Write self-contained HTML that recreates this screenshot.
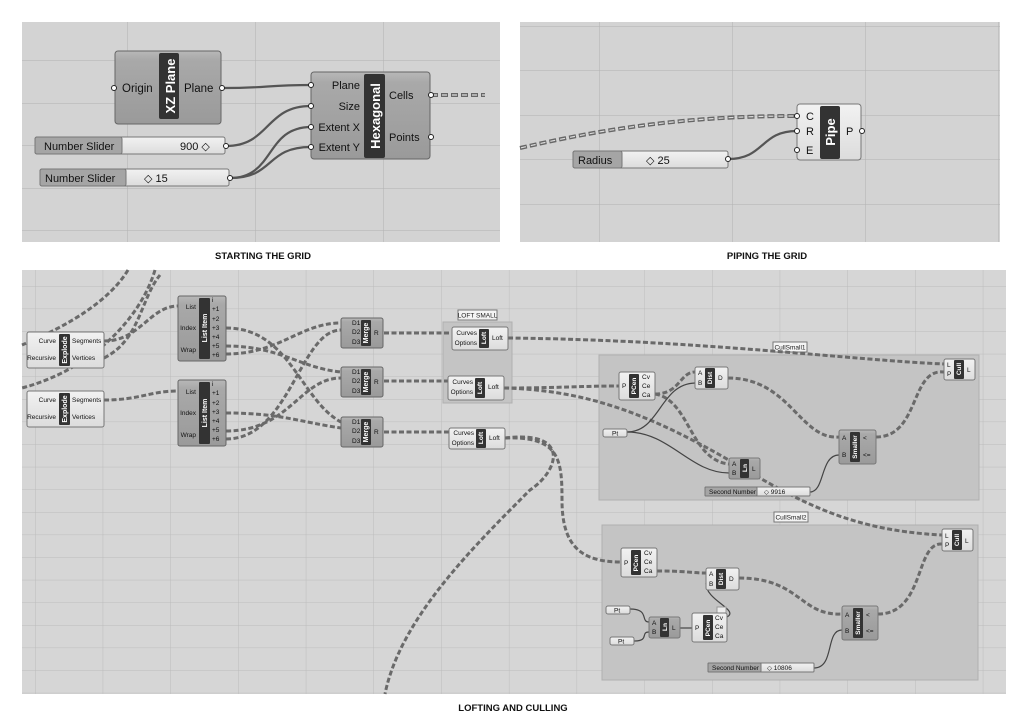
<!DOCTYPE html>
<html><head><meta charset="utf-8">
<style>
html,body{margin:0;padding:0;background:#fff;}
svg{display:block;font-family:"Liberation Sans",sans-serif;}
</style></head>
<body>
<svg width="1024" height="724" viewBox="0 0 1024 724" xmlns="http://www.w3.org/2000/svg">
<defs>
<linearGradient id="comp" x1="0" y1="0" x2="0" y2="1">
<stop offset="0" stop-color="#b8b8b8"/><stop offset="0.12" stop-color="#a9a9a9"/><stop offset="1" stop-color="#9a9a9a"/></linearGradient>
<linearGradient id="light" x1="0" y1="0" x2="0" y2="1">
<stop offset="0" stop-color="#f2f2f2"/><stop offset="1" stop-color="#dcdcdc"/></linearGradient>
<pattern id="g1" x="-1" y="18" width="128" height="42.5" patternUnits="userSpaceOnUse">
<path d="M0 0 H128 M0 0 V43" stroke="#b2b2b2" stroke-width="1" fill="none"/></pattern>
<pattern id="g2" x="67" y="26" width="133" height="44.5" patternUnits="userSpaceOnUse">
<path d="M0 0 H133 M0 0 V45" stroke="#b2b2b2" stroke-width="1" fill="none"/></pattern>
<pattern id="g3" x="35" y="286" width="67.7" height="22.6" patternUnits="userSpaceOnUse">
<path d="M0 0 H68 M0 0 V23" stroke="#bcbcbc" stroke-width="1" fill="none"/></pattern>
</defs>

<rect x="22" y="22" width="478" height="220" fill="#d3d3d3"/>
<rect x="22" y="22" width="478" height="220" fill="url(#g1)"/>
<rect x="520" y="22" width="480" height="220" fill="#d3d3d3"/>
<rect x="520" y="22" width="480" height="220" fill="url(#g2)"/>
<rect x="22" y="270" width="984" height="424" fill="#d6d6d6"/>
<rect x="22" y="270" width="984" height="424" fill="url(#g3)"/>

<g font-weight="bold" font-size="9.5" fill="#111" text-anchor="middle">
<text x="263" y="259">STARTING THE GRID</text>
<text x="767" y="259">PIPING THE GRID</text>
<text x="513" y="711">LOFTING AND CULLING</text>
</g>

<!-- ===== TOP LEFT ===== -->
<g fill="none" stroke="#555" stroke-width="2.2">
<path d="M223 88 C270 88 265 85 311 85"/>
<path d="M226 146 C270 146 265 106 311 106"/>
<path d="M230 178 C275 178 265 127 311 127"/>
<path d="M230 178 C275 178 265 147 311 147"/>
</g>
<path d="M431 95 H485" stroke="#666" stroke-width="4" stroke-dasharray="7 3" fill="none"/>
<path d="M431 95 H485" stroke="#ddd" stroke-width="1.2" stroke-dasharray="5 5" stroke-dashoffset="-1" fill="none"/>

<rect x="115" y="51" width="106" height="73" rx="3" fill="url(#comp)" stroke="#666"/>
<rect x="159" y="53" width="20" height="66" rx="2" fill="#333"/>
<text transform="translate(175 86) rotate(-90)" text-anchor="middle" fill="#fff" font-weight="bold" font-size="13">XZ Plane</text>
<text x="122" y="92" font-size="11.5" fill="#111">Origin</text>
<text x="184" y="92" font-size="11.5" fill="#111">Plane</text>
<circle cx="114" cy="88" r="2.5" fill="#fff" stroke="#222"/>
<circle cx="222" cy="88" r="2.5" fill="#fff" stroke="#222"/>

<rect x="311" y="72" width="119" height="87" rx="3" fill="url(#comp)" stroke="#666"/>
<rect x="364" y="74" width="21" height="84" rx="2" fill="#333"/>
<text transform="translate(380 116) rotate(-90)" text-anchor="middle" fill="#fff" font-weight="bold" font-size="13">Hexagonal</text>
<g font-size="11" fill="#111" text-anchor="end">
<text x="360" y="89">Plane</text><text x="360" y="110">Size</text><text x="360" y="131">Extent X</text><text x="360" y="151">Extent Y</text></g>
<text x="389" y="99" font-size="11" fill="#111">Cells</text>
<text x="389" y="141" font-size="11" fill="#111">Points</text>
<g fill="#fff" stroke="#222"><circle cx="311" cy="85" r="2.5"/><circle cx="311" cy="106" r="2.5"/><circle cx="311" cy="127" r="2.5"/><circle cx="311" cy="147" r="2.5"/><circle cx="431" cy="95" r="2.5"/><circle cx="431" cy="137" r="2.5"/></g>

<rect x="35" y="137" width="190" height="17" rx="2" fill="url(#light)" stroke="#777"/>
<rect x="35" y="137" width="87" height="17" rx="2" fill="#a5a5a5" stroke="#777"/>
<text x="44" y="150" font-size="11" fill="#111">Number Slider</text>
<text x="180" y="150" font-size="11" fill="#111">900 ◇</text>
<circle cx="226" cy="146" r="2.5" fill="#fff" stroke="#222"/>
<rect x="40" y="169" width="189" height="17" rx="2" fill="url(#light)" stroke="#777"/>
<rect x="40" y="169" width="86" height="17" rx="2" fill="#a5a5a5" stroke="#777"/>
<text x="45" y="182" font-size="11" fill="#111">Number Slider</text>
<text x="144" y="182" font-size="11" fill="#111">◇ 15</text>
<circle cx="230" cy="178" r="2.5" fill="#fff" stroke="#222"/>

<!-- ===== TOP RIGHT ===== -->
<path d="M520 148 C620 125 700 116 797 116" stroke="#666" stroke-width="4" stroke-dasharray="7 3" fill="none"/>
<path d="M520 148 C620 125 700 116 797 116" stroke="#ddd" stroke-width="1.2" stroke-dasharray="5 5" stroke-dashoffset="-1" fill="none"/>
<path d="M728 159 C765 159 760 131 797 131" stroke="#555" stroke-width="2.2" fill="none"/>
<rect x="797" y="104" width="64" height="56" rx="3" fill="url(#light)" stroke="#777"/>
<rect x="820" y="106" width="20" height="53" rx="2" fill="#333"/>
<text transform="translate(835 132) rotate(-90)" text-anchor="middle" fill="#fff" font-weight="bold" font-size="13">Pipe</text>
<g font-size="11" fill="#111"><text x="806" y="120">C</text><text x="806" y="135">R</text><text x="806" y="154">E</text><text x="846" y="135">P</text></g>
<g fill="#fff" stroke="#222"><circle cx="797" cy="116" r="2.5"/><circle cx="797" cy="131" r="2.5"/><circle cx="797" cy="150" r="2.5"/><circle cx="862" cy="131" r="2.5"/></g>
<rect x="573" y="151" width="155" height="17" rx="2" fill="url(#light)" stroke="#777"/>
<rect x="573" y="151" width="49" height="17" rx="2" fill="#a5a5a5" stroke="#777"/>
<text x="578" y="164" font-size="11" fill="#111">Radius</text>
<text x="646" y="164" font-size="11" fill="#111">◇ 25</text>
<circle cx="728" cy="159" r="2.5" fill="#fff" stroke="#222"/>

<!-- ===== BOTTOM ===== -->
<rect x="443" y="322" width="69" height="81" fill="#c4c4c4" stroke="#b0b0b0"/>
<rect x="599" y="355" width="380" height="145" fill="#c4c4c4" stroke="#b0b0b0"/>
<rect x="602" y="525" width="376" height="155" fill="#c4c4c4" stroke="#b0b0b0"/>
<g font-size="6.5" fill="#222" text-anchor="middle">
<rect x="458" y="310" width="39" height="10" fill="#f4f4f4" stroke="#777"/><text x="477.5" y="317.5">LOFT SMALL</text>
<rect x="773" y="342" width="34" height="10" fill="#f4f4f4" stroke="#777"/><text x="790" y="349.5">CullSmall1</text>
<rect x="774" y="512" width="34" height="10" fill="#f4f4f4" stroke="#777"/><text x="791" y="519.5">CullSmall2</text>
</g>

<g fill="none" stroke="#6a6a6a" stroke-width="3" stroke-dasharray="5 2.5">
<path d="M128 270 C110 300 70 325 22 345"/>
<path d="M155 270 C140 320 90 370 22 388"/>
<path d="M104 341 C140 341 150 306 178 306"/>
<path d="M104 358 C140 340 140 300 160 275"/>
<path d="M104 400 C140 400 150 391 178 391"/>
<path d="M226 328 C290 328 300 400 341 422"/>
<path d="M226 346 C280 346 300 368 341 372"/>
<path d="M226 354 C280 354 300 323 341 323"/>
<path d="M226 413 C280 413 300 422 341 428"/>
<path d="M226 431 C290 431 300 378 341 378"/>
<path d="M226 439 C290 439 300 330 341 330"/>
<path d="M384 333 H452"/>
<path d="M384 381 H448"/>
<path d="M384 432 H449"/>
<path d="M508 338 C700 340 850 360 944 364"/>
<!-- Loft2 -> PCen1 P and -> Cull2 L -->
<path d="M504 388 C560 388 580 386 619 386"/>
<path d="M504 388 C580 390 640 410 720 455 C790 495 840 530 942 535"/>
<!-- Loft3 -> long curve and -> PCen2 -->
<path d="M505 438 C570 430 560 470 530 490 C470 550 400 620 385 694"/>
<path d="M505 438 C560 436 562 460 562 500 C562 545 580 562 621 562"/>
<path d="M655 394 C680 394 680 372 695 372"/>
<path d="M655 394 C690 400 690 460 729 464"/>
<path d="M728 378 C790 378 800 440 839 437"/>
<path d="M876 437 C920 437 910 368 944 372"/>
<path d="M657 571 C690 571 690 573 706 573"/>
<path d="M739 578 C800 578 800 616 842 614"/>
<path d="M878 614 C925 614 915 542 942 544"/>
</g>
<g fill="none" stroke="#444" stroke-width="1.2">
<path d="M627 432 C660 432 660 384 695 383"/>
<path d="M627 432 C670 432 690 473 729 473"/>
<path d="M810 492 C825 492 820 455 839 455"/>
<path d="M630 609 C650 609 640 622 649 622"/>
<path d="M634 641 C650 641 640 632 649 632"/>
<path d="M680 628 H692"/>
<path d="M727 617 C740 610 705 600 706 583"/>
<path d="M814 668 C835 668 825 630 842 630"/>
</g>

<g font-size="6.5" fill="#111">
<rect x="27" y="332" width="77" height="36" rx="2" fill="url(#light)" stroke="#777"/>
<rect x="59" y="334" width="11" height="32" rx="1" fill="#333"/>
<text transform="translate(67 350) rotate(-90)" text-anchor="middle" fill="#fff" font-weight="bold" font-size="7">Explode</text>
<text x="56" y="343" text-anchor="end">Curve</text><text x="56" y="360" text-anchor="end">Recursive</text>
<text x="72" y="343">Segments</text><text x="72" y="360">Vertices</text>
<rect x="27" y="391" width="77" height="36" rx="2" fill="url(#light)" stroke="#777"/>
<rect x="59" y="393" width="11" height="32" rx="1" fill="#333"/>
<text transform="translate(67 409) rotate(-90)" text-anchor="middle" fill="#fff" font-weight="bold" font-size="7">Explode</text>
<text x="56" y="402" text-anchor="end">Curve</text><text x="56" y="419" text-anchor="end">Recursive</text>
<text x="72" y="402">Segments</text><text x="72" y="419">Vertices</text>

<rect x="178" y="296" width="48" height="65" rx="2" fill="url(#comp)" stroke="#666"/>
<rect x="199" y="298" width="11" height="61" rx="1" fill="#333"/>
<text transform="translate(207 328) rotate(-90)" text-anchor="middle" fill="#fff" font-weight="bold" font-size="7">List Item</text>
<text x="196" y="309" text-anchor="end">List</text><text x="196" y="330" text-anchor="end">Index</text><text x="196" y="352" text-anchor="end">Wrap</text>
<text x="212" y="302">i</text><text x="212" y="311">+1</text><text x="212" y="321">+2</text><text x="212" y="330">+3</text><text x="212" y="339">+4</text><text x="212" y="348">+5</text><text x="212" y="357">+6</text>
<rect x="178" y="380" width="48" height="66" rx="2" fill="url(#comp)" stroke="#666"/>
<rect x="199" y="382" width="11" height="62" rx="1" fill="#333"/>
<text transform="translate(207 413) rotate(-90)" text-anchor="middle" fill="#fff" font-weight="bold" font-size="7">List Item</text>
<text x="196" y="394" text-anchor="end">List</text><text x="196" y="415" text-anchor="end">Index</text><text x="196" y="437" text-anchor="end">Wrap</text>
<text x="212" y="386">i</text><text x="212" y="395">+1</text><text x="212" y="405">+2</text><text x="212" y="414">+3</text><text x="212" y="423">+4</text><text x="212" y="432">+5</text><text x="212" y="441">+6</text>

<rect x="341" y="318" width="42" height="30" rx="2" fill="url(#comp)" stroke="#666"/>
<rect x="361" y="320" width="10" height="26" rx="1" fill="#333"/>
<text transform="translate(368 333) rotate(-90)" text-anchor="middle" fill="#fff" font-weight="bold" font-size="7">Merge</text>
<text x="352" y="325">D1</text><text x="352" y="334">D2</text><text x="352" y="344">D3</text><text x="374" y="335">R</text>
<rect x="341" y="367" width="42" height="30" rx="2" fill="url(#comp)" stroke="#666"/>
<rect x="361" y="369" width="10" height="26" rx="1" fill="#333"/>
<text transform="translate(368 382) rotate(-90)" text-anchor="middle" fill="#fff" font-weight="bold" font-size="7">Merge</text>
<text x="352" y="374">D1</text><text x="352" y="383">D2</text><text x="352" y="393">D3</text><text x="374" y="384">R</text>
<rect x="341" y="417" width="42" height="30" rx="2" fill="url(#comp)" stroke="#666"/>
<rect x="361" y="419" width="10" height="26" rx="1" fill="#333"/>
<text transform="translate(368 432) rotate(-90)" text-anchor="middle" fill="#fff" font-weight="bold" font-size="7">Merge</text>
<text x="352" y="424">D1</text><text x="352" y="433">D2</text><text x="352" y="443">D3</text><text x="374" y="434">R</text>

<rect x="452" y="327" width="56" height="23" rx="2" fill="url(#light)" stroke="#777"/>
<rect x="479" y="329" width="10" height="19" rx="1" fill="#333"/>
<text transform="translate(486 338) rotate(-90)" text-anchor="middle" fill="#fff" font-weight="bold" font-size="6.5">Loft</text>
<text x="477" y="335" text-anchor="end">Curves</text><text x="477" y="345" text-anchor="end">Options</text><text x="492" y="340">Loft</text>
<rect x="448" y="376" width="56" height="24" rx="2" fill="url(#light)" stroke="#777"/>
<rect x="475" y="378" width="10" height="20" rx="1" fill="#333"/>
<text transform="translate(482 388) rotate(-90)" text-anchor="middle" fill="#fff" font-weight="bold" font-size="6.5">Loft</text>
<text x="473" y="384" text-anchor="end">Curves</text><text x="473" y="394" text-anchor="end">Options</text><text x="488" y="389">Loft</text>
<rect x="449" y="428" width="56" height="21" rx="2" fill="url(#light)" stroke="#777"/>
<rect x="476" y="429" width="10" height="19" rx="1" fill="#333"/>
<text transform="translate(483 438) rotate(-90)" text-anchor="middle" fill="#fff" font-weight="bold" font-size="6.5">Loft</text>
<text x="474" y="435" text-anchor="end">Curves</text><text x="474" y="445" text-anchor="end">Options</text><text x="489" y="440">Loft</text>

<rect x="619" y="372" width="36" height="28" rx="2" fill="url(#light)" stroke="#777"/>
<rect x="629" y="374" width="10" height="24" rx="1" fill="#333"/>
<text transform="translate(636 386) rotate(-90)" text-anchor="middle" fill="#fff" font-weight="bold" font-size="6.5">PCen</text>
<text x="622" y="388">P</text><text x="642" y="379">Cv</text><text x="642" y="388">Ce</text><text x="642" y="397">Ca</text>
<rect x="695" y="367" width="33" height="22" rx="2" fill="url(#light)" stroke="#777"/>
<rect x="705" y="368" width="10" height="20" rx="1" fill="#333"/>
<text transform="translate(712 378) rotate(-90)" text-anchor="middle" fill="#fff" font-weight="bold" font-size="6.5">Dist</text>
<text x="698" y="375">A</text><text x="698" y="385">B</text><text x="718" y="380">D</text>
<rect x="603" y="429" width="24" height="8" rx="2" fill="url(#light)" stroke="#777"/><text x="612" y="435.5">Pt</text>
<rect x="729" y="458" width="31" height="21" rx="2" fill="url(#comp)" stroke="#777"/>
<rect x="740" y="459" width="9" height="19" rx="1" fill="#333"/>
<text transform="translate(747 468) rotate(-90)" text-anchor="middle" fill="#fff" font-weight="bold" font-size="6.5">Ln</text>
<text x="732" y="466">A</text><text x="732" y="475">B</text><text x="752" y="471">L</text>
<rect x="839" y="430" width="37" height="34" rx="2" fill="url(#comp)" stroke="#777"/>
<rect x="850" y="432" width="10" height="30" rx="1" fill="#333"/>
<text transform="translate(857 447) rotate(-90)" text-anchor="middle" fill="#fff" font-weight="bold" font-size="6.5">Smaller</text>
<text x="842" y="440">A</text><text x="842" y="457">B</text><text x="863" y="440">&lt;</text><text x="863" y="457">&lt;=</text>
<rect x="944" y="359" width="31" height="21" rx="2" fill="url(#light)" stroke="#777"/>
<rect x="954" y="360" width="10" height="19" rx="1" fill="#333"/>
<text transform="translate(961 369) rotate(-90)" text-anchor="middle" fill="#fff" font-weight="bold" font-size="6.5">Cull</text>
<text x="947" y="367">L</text><text x="947" y="376">P</text><text x="967" y="372">L</text>
<rect x="705" y="487" width="105" height="9" rx="1" fill="url(#light)" stroke="#777"/>
<rect x="705" y="487" width="52" height="9" rx="1" fill="#a5a5a5" stroke="#777"/>
<text x="709" y="494">Second Number</text><text x="764" y="494">◇ 9916</text>

<rect x="621" y="548" width="36" height="29" rx="2" fill="url(#light)" stroke="#777"/>
<rect x="631" y="550" width="10" height="25" rx="1" fill="#333"/>
<text transform="translate(638 563) rotate(-90)" text-anchor="middle" fill="#fff" font-weight="bold" font-size="6.5">PCen</text>
<text x="624" y="565">P</text><text x="644" y="555">Cv</text><text x="644" y="564">Ce</text><text x="644" y="573">Ca</text>
<rect x="706" y="568" width="33" height="22" rx="2" fill="url(#light)" stroke="#777"/>
<rect x="716" y="569" width="10" height="20" rx="1" fill="#333"/>
<text transform="translate(723 579) rotate(-90)" text-anchor="middle" fill="#fff" font-weight="bold" font-size="6.5">Dist</text>
<text x="709" y="576">A</text><text x="709" y="586">B</text><text x="729" y="581">D</text>
<rect x="606" y="606" width="24" height="8" rx="2" fill="url(#light)" stroke="#777"/><text x="614" y="612.5">Pt</text>
<rect x="610" y="637" width="24" height="8" rx="2" fill="url(#light)" stroke="#777"/><text x="618" y="643.5">Pt</text>
<rect x="649" y="617" width="31" height="21" rx="2" fill="url(#comp)" stroke="#777"/>
<rect x="660" y="618" width="9" height="19" rx="1" fill="#333"/>
<text transform="translate(667 627) rotate(-90)" text-anchor="middle" fill="#fff" font-weight="bold" font-size="6.5">Ln</text>
<text x="652" y="625">A</text><text x="652" y="634">B</text><text x="672" y="630">L</text>
<rect x="717" y="607" width="9" height="6" fill="#eee" stroke="#999"/>
<rect x="692" y="613" width="35" height="29" rx="2" fill="url(#light)" stroke="#777"/>
<rect x="703" y="615" width="10" height="25" rx="1" fill="#333"/>
<text transform="translate(710 628) rotate(-90)" text-anchor="middle" fill="#fff" font-weight="bold" font-size="6.5">PCen</text>
<text x="695" y="630">P</text><text x="715" y="620">Cv</text><text x="715" y="629">Ce</text><text x="715" y="638">Ca</text>
<rect x="842" y="606" width="36" height="34" rx="2" fill="url(#comp)" stroke="#777"/>
<rect x="853" y="608" width="10" height="30" rx="1" fill="#333"/>
<text transform="translate(860 623) rotate(-90)" text-anchor="middle" fill="#fff" font-weight="bold" font-size="6.5">Smaller</text>
<text x="845" y="617">A</text><text x="845" y="633">B</text><text x="866" y="617">&lt;</text><text x="866" y="633">&lt;=</text>
<rect x="942" y="529" width="31" height="22" rx="2" fill="url(#light)" stroke="#777"/>
<rect x="952" y="530" width="10" height="20" rx="1" fill="#333"/>
<text transform="translate(959 540) rotate(-90)" text-anchor="middle" fill="#fff" font-weight="bold" font-size="6.5">Cull</text>
<text x="945" y="538">L</text><text x="945" y="547">P</text><text x="965" y="543">L</text>
<rect x="708" y="663" width="106" height="9" rx="1" fill="url(#light)" stroke="#777"/>
<rect x="708" y="663" width="53" height="9" rx="1" fill="#a5a5a5" stroke="#777"/>
<text x="712" y="670">Second Number</text><text x="767" y="670">◇ 10806</text>
</g>
</svg>
</body></html>
